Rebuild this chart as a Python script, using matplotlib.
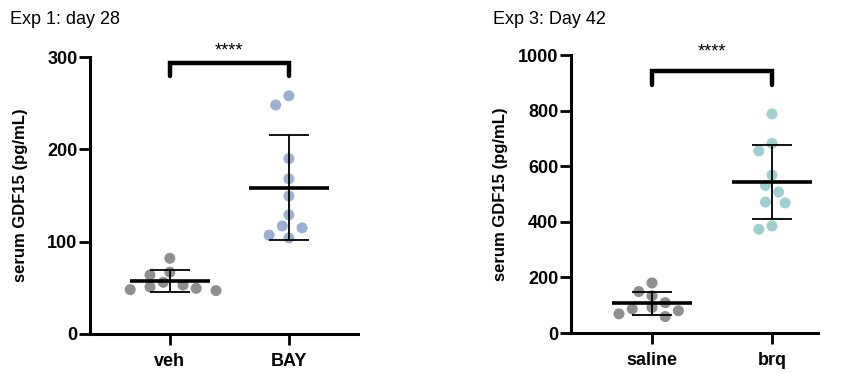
import numpy as np
import matplotlib
matplotlib.use("Agg")
import matplotlib.pyplot as plt

plt.rcParams['font.family'] = ['Liberation Sans', 'DejaVu Sans']

# Exp 1 (day 28)
exp1_title = "Exp 1: day 28"
exp1_groups = ["veh", "BAY"]
exp1_veh = [82, 67, 64, 56, 53, 48, 49.5, 47, 51]
exp1_bay = [258, 248, 190, 168, 149.5, 129, 117, 115, 104, 107]
exp1_ticks = [0, 100, 200, 300]

# Exp 3 (day 42)
exp3_title = "Exp 3: Day 42"
exp3_groups = ["saline", "brq"]
exp3_saline = [180, 134, 149, 109, 92, 80, 87, 69, 59]
exp3_brq = [788, 682, 655, 568, 531, 507, 471, 468, 385, 373]
exp3_ticks = [0, 200, 400, 600, 800, 1000]

ylabel = "serum GDF15 (pg/mL)"
sig_label = "****"

GREY = "#8f8f8f"
BLUE = "#9cb0d2"
TEAL = "#9fcfcf"
DOT_PX = 11.0


def swarm_offsets(ax, xc, values, dot_px, xr=1.25, yr=1.05, step=0.6):
    """Simple beeswarm: each point goes as close to the centre as it can
    without overlapping (elliptical keep-out zone) the points already placed."""
    tr = ax.transData
    pts = tr.transform(np.column_stack([np.full(len(values), xc), values]))
    order = np.argsort(values)[::-1]
    placed = []
    xs = np.zeros(len(values))
    rx, ry = xr * dot_px, yr * dot_px
    for i in order:
        y = pts[i, 1]
        for k in range(0, 60):
            cands = [0.0] if k == 0 else [-k * dot_px * step, k * dot_px * step]
            ok = None
            for dx in cands:
                if all(((dx - px) / rx) ** 2 + ((y - py) / ry) ** 2 >= 0.999
                       for px, py in placed):
                    ok = dx
                    break
            if ok is not None:
                placed.append((ok, y))
                xs[i] = ok
                break
    inv = tr.inverted()
    return inv.transform(np.column_stack([pts[:, 0] + xs, pts[:, 1]]))[:, 0]


def panel(fig, rect, title, groups, data, colors, ticks, xlim, bracket, title_x, ylab_x):
    ax = fig.add_axes(rect)
    ax.set_xlim(*xlim)
    ax.set_ylim(ticks[0], ticks[-1])
    for sp in ["top", "right"]:
        ax.spines[sp].set_visible(False)
    for sp in ["left", "bottom"]:
        ax.spines[sp].set_linewidth(2.2)
    ax.tick_params(width=2.0, length=8, labelsize=13, pad=1)
    ax.set_yticks(ticks)
    ax.set_xticks(range(len(groups)))
    ax.set_xticklabels(groups, fontweight='bold')
    ax.tick_params(axis='x', pad=6)
    for lab in ax.get_yticklabels():
        lab.set_fontweight('bold')
    ax.set_ylabel(ylabel, fontsize=12, fontweight='bold')
    ax.yaxis.set_label_coords(ylab_x, 0.5)

    for i, (vals, c) in enumerate(zip(data, colors)):
        vals = np.asarray(vals, dtype=float)
        xs = swarm_offsets(ax, i, vals, DOT_PX)
        ax.scatter(xs, vals, s=(DOT_PX * 0.72) ** 2, color=c, edgecolors='none', zorder=2)
        m = vals.mean()
        sd = vals.std(ddof=1)
        ax.plot([i - 0.335, i + 0.335], [m, m], color='black', lw=2.6, zorder=3,
                solid_capstyle='butt')
        ax.errorbar(i, m, yerr=sd, fmt='none', ecolor='black', elinewidth=1.3,
                    capsize=14.5, capthick=1.3, zorder=3)

    top, drop, star_y = bracket
    ax.plot([0, 0, 1, 1], [drop, top, top, drop], color='black', lw=3.2,
            clip_on=False, solid_joinstyle='miter', solid_capstyle='round')
    ax.text(0.5, star_y, sig_label, ha='center', va='center', fontsize=13, clip_on=False)

    fig.text(title_x, 1 - 20 / 373, title, fontsize=13, ha='left', va='center')
    return ax


fig = plt.figure(figsize=(8.42, 3.73), dpi=100)

panel(fig, [90 / 842, 1 - 334 / 373, (358 - 90) / 842, (334 - 57) / 373],
      exp1_title, exp1_groups, [exp1_veh, exp1_bay], [GREY, BLUE],
      exp1_ticks, (-0.67, 1.58), (294, 279, 306), 10 / 842, -0.231)

panel(fig, [571 / 842, 1 - 333 / 373, (818 - 571) / 842, (333 - 55) / 373],
      exp3_title, exp3_groups, [exp3_saline, exp3_brq], [GREY, TEAL],
      exp3_ticks, (-0.675, 1.383), (943, 892, 1012), 493 / 842, -0.255)

fig.savefig("out.png", dpi=100)
